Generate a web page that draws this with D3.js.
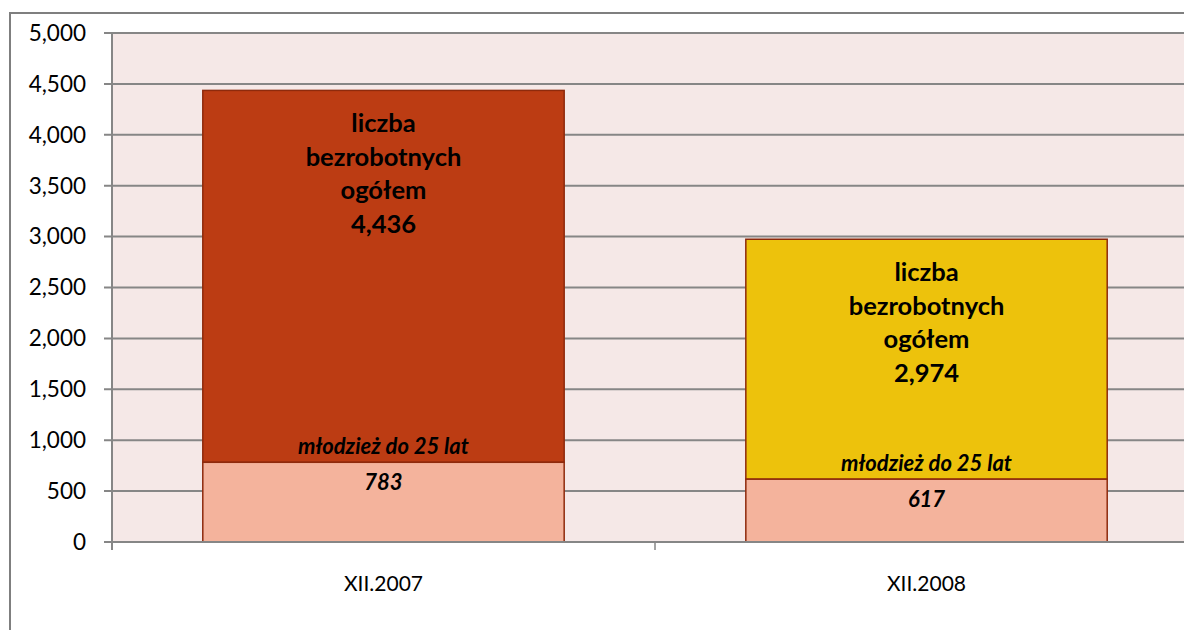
<!DOCTYPE html>
<html>
<head>
<meta charset="utf-8">
<script src="https://cdn.jsdelivr.net/npm/d3@7"></script>
<style>
body { margin: 0; background: #fff; }
svg text { font-family: Lato, "Open Sans", sans-serif; }
</style>
</head>
<body>
<script>
"use strict";

const categories = ["XII.2007", "XII.2008"];
const youthValues = [783, 617];
const totalValues = [4436, 2974];
const topColors = ["#BC3C13", "#EDC20C"];
const yTicks = [0, 500, 1000, 1500, 2000, 2500, 3000, 3500, 4000, 4500, 5000];

const width = 1184;
const height = 630;

const margin = { left: 112, top: 33, right: -14, bottom: 88 };
const plotW = width - margin.left - margin.right;
const plotH = height - margin.top - margin.bottom;

const svg = d3.select("body").append("svg")
    .attr("width", width)
    .attr("height", height);

// outer chart frame
svg.append("rect")
    .attr("x", 10).attr("y", 13)
    .attr("width", 1200).attr("height", 700)
    .attr("fill", "#fff")
    .attr("stroke", "#7f7f7f")
    .attr("stroke-width", 2);

const g = svg.append("g")
    .attr("transform", `translate(${margin.left},${margin.top})`);

const x = d3.scaleBand()
    .domain(categories)
    .range([0, plotW])
    .paddingInner(0.3345)
    .paddingOuter(0.1672);

const y = d3.scaleLinear()
    .domain([0, 5000])
    .range([plotH, 0]);

// plot background
g.append("rect")
    .attr("width", plotW).attr("height", plotH)
    .attr("fill", "#F5E8E7");

// gridlines
g.selectAll(".grid")
    .data(yTicks.filter(d => d > 0))
    .enter().append("line")
    .attr("x1", -8).attr("x2", plotW)
    .attr("y1", d => y(d)).attr("y2", d => y(d))
    .attr("stroke", "#868686")
    .attr("stroke-width", 2);

// y axis labels
g.selectAll(".ylab")
    .data(yTicks)
    .enter().append("text")
    .attr("x", -26)
    .attr("y", d => y(d))
    .attr("dy", "0.35em")
    .attr("text-anchor", "end")
    .attr("font-size", 22.5)
    .attr("fill", "#000")
    .text(d => d3.format(",")(d));

// stacked bars: youth segment then rest of total
const bars = g.selectAll(".bar")
    .data(categories.map((c, i) => ({ c, i, youth: youthValues[i], total: totalValues[i] })))
    .enter().append("g");

bars.append("rect")
    .attr("x", d => x(d.c))
    .attr("y", d => y(d.total))
    .attr("width", x.bandwidth())
    .attr("height", d => y(d.youth) - y(d.total))
    .attr("fill", d => topColors[d.i])
    .attr("stroke", "#8E2A0C")
    .attr("stroke-width", 1.5);

bars.append("rect")
    .attr("x", d => x(d.c))
    .attr("y", d => y(d.youth))
    .attr("width", x.bandwidth())
    .attr("height", d => y(0) - y(d.youth))
    .attr("fill", "#F4B39C")
    .attr("stroke", "#8E2A0C")
    .attr("stroke-width", 1.5);

// total labels
bars.each(function(d) {
    const lines = ["liczba", "bezrobotnych", "ogółem", d3.format(",")(d.total)];
    const cx = x(d.c) + x.bandwidth() / 2;
    const t0 = y(d.total) + 33;
    d3.select(this).selectAll(".tl")
        .data(lines)
        .enter().append("text")
        .attr("x", cx)
        .attr("y", (l, k) => t0 + k * 33.5)
        .attr("dy", "0.35em")
        .attr("text-anchor", "middle")
        .attr("font-size", 25.5)
        .attr("font-weight", "bold")
        .attr("fill", "#000")
        .text(l => l);
});

// youth labels
bars.append("text")
    .attr("x", d => x(d.c) + x.bandwidth() / 2)
    .attr("y", d => y(d.youth) - 16)
    .attr("dy", "0.35em")
    .attr("text-anchor", "middle")
    .attr("font-size", 22)
    .attr("font-weight", "bold")
    .attr("font-style", "italic")
    .text("młodzież do 25 lat");

bars.append("text")
    .attr("x", d => x(d.c) + x.bandwidth() / 2)
    .attr("y", d => y(d.youth) + 20)
    .attr("dy", "0.35em")
    .attr("text-anchor", "middle")
    .attr("font-size", 22)
    .attr("font-weight", "bold")
    .attr("font-style", "italic")
    .text(d => d3.format(",")(d.youth));

// axes lines
g.append("line")
    .attr("x1", 0).attr("x2", 0)
    .attr("y1", 0).attr("y2", plotH + 8)
    .attr("stroke", "#868686").attr("stroke-width", 2);

g.append("line")
    .attr("x1", -8).attr("x2", plotW)
    .attr("y1", plotH).attr("y2", plotH)
    .attr("stroke", "#868686").attr("stroke-width", 2);

// category ticks between bands
g.selectAll(".xtick")
    .data(d3.range(categories.length + 1))
    .enter().append("line")
    .attr("x1", k => k * plotW / categories.length)
    .attr("x2", k => k * plotW / categories.length)
    .attr("y1", plotH).attr("y2", plotH + 8)
    .attr("stroke", "#868686").attr("stroke-width", 1.5);

g.selectAll(".xlab")
    .data(categories)
    .enter().append("text")
    .attr("x", d => x(d) + x.bandwidth() / 2)
    .attr("y", plotH + 42)
    .attr("dy", "0.35em")
    .attr("text-anchor", "middle")
    .attr("font-size", 21)
    .attr("fill", "#000")
    .text(d => d);
</script>
</body>
</html>
